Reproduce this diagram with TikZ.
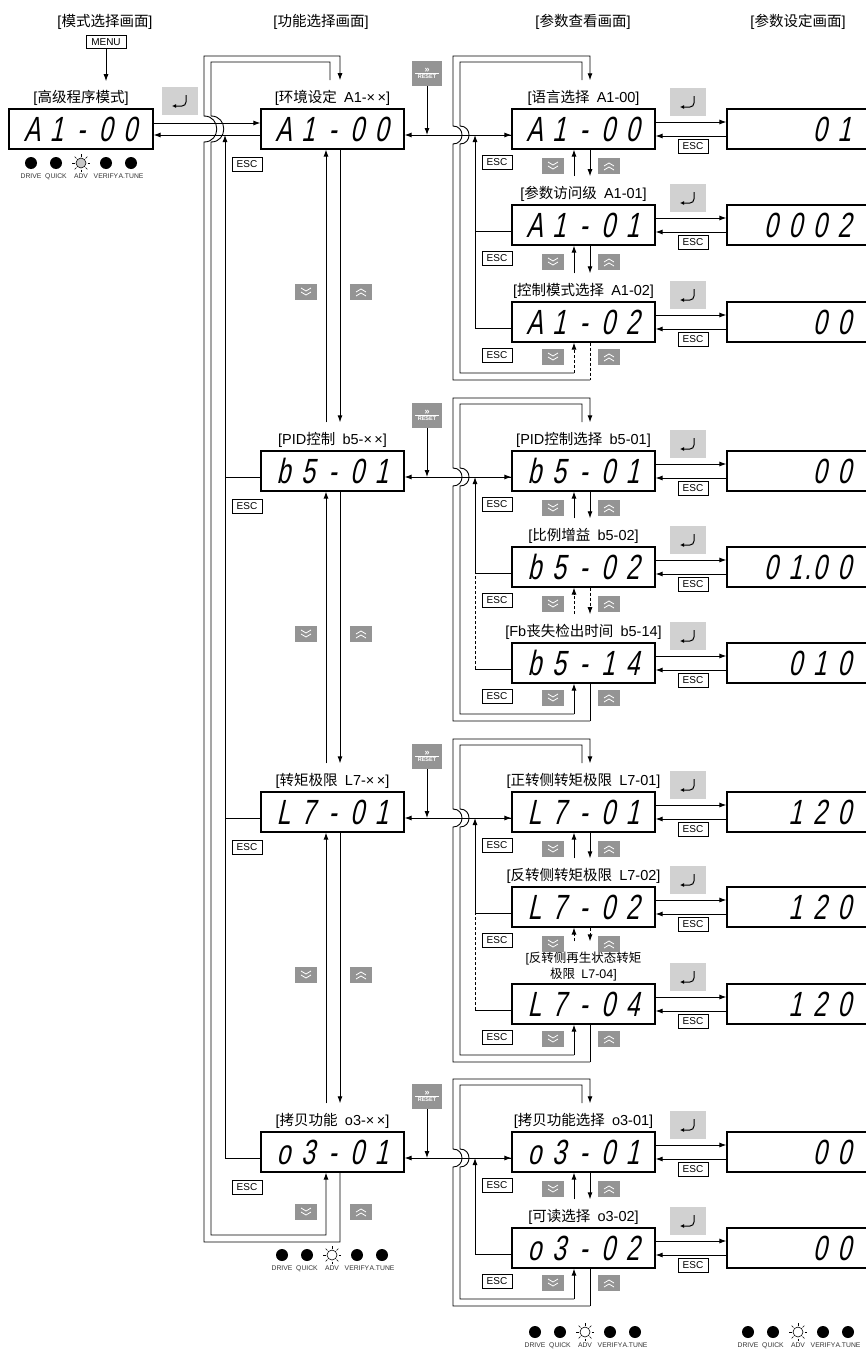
\documentclass[tikz,border=0pt]{standalone}
\usepackage{fontspec}
\setmainfont{Liberation Sans}
\newfontfamily\cjk{Noto Sans CJK SC}
\newfontfamily\segfam{Liberation Sans}[FakeSlant=0.22, FakeStretch=0.7]
\usetikzlibrary{positioning, arrows.meta}

\newcommand\segfont{\segfam\fontsize{35}{35}\selectfont}
\newcommand\labfont{\fontsize{14.5}{16}\selectfont}
% seven-segment readout: one fixed cell per character
\newcommand\segtext[1]{\edef\segtmp{#1}\expandafter\segloop\segtmp\relax}
\newcommand\segloop[1]{\ifx\relax#1\else\ifx.#1\makebox[0pt]{.}\else\makebox[24.5pt]{#1}\fi\expandafter\segloop\fi}

\begin{document}
\begin{tikzpicture}[x=1pt, y=-1pt, line width=0.9pt,
    disp/.style={draw, line width=1.2pt, minimum width=143pt, minimum height=40pt, inner sep=0pt, font=\segfont},
    vbox/.style={draw, line width=1.2pt, minimum width=150pt, minimum height=40pt},
    segval/.style={inner sep=0pt, font=\segfont},
    lab/.style={inner sep=1pt, font=\labfont, align=center},
    esckey/.style={draw, line width=0.8pt, fill=white, minimum width=30pt, minimum height=14pt, inner sep=0pt, font=\fontsize{10}{10}\selectfont},
    enterkey/.style={fill=black!18, minimum width=36pt, minimum height=28pt, path picture={
        \draw[line width=1pt, rounded corners=4pt, -{Latex[length=4pt, width=4pt]}]
          ([shift={(6pt,6pt)}]path picture bounding box.center) |- ([shift={(-8pt,-5pt)}]path picture bounding box.center);}},
    resetkey/.style={fill=black!42, text=white, minimum width=30pt, minimum height=25pt, inner sep=0pt, align=center,
        font=\fontsize{5.5}{6}\selectfont\bfseries, path picture={
        \draw[white, line width=0.6pt] ([xshift=-12pt]path picture bounding box.center) -- ([xshift=12pt]path picture bounding box.center);}},
    dnkey/.style={fill=black!42, minimum width=22pt, minimum height=16pt, inner sep=0pt, path picture={
        \draw[white, line width=0.8pt] ([shift={(-5pt,4pt)}]path picture bounding box.center) -- ++(5pt,-3pt) -- ++(5pt,3pt)
          ([shift={(-5pt,0pt)}]path picture bounding box.center) -- ++(5pt,-3pt) -- ++(5pt,3pt);}},
    upkey/.style={fill=black!42, minimum width=22pt, minimum height=16pt, inner sep=0pt, path picture={
        \draw[white, line width=0.8pt] ([shift={(-5pt,-4pt)}]path picture bounding box.center) -- ++(5pt,3pt) -- ++(5pt,-3pt)
          ([shift={(-5pt,0pt)}]path picture bounding box.center) -- ++(5pt,3pt) -- ++(5pt,-3pt);}},
    led/.style={circle, fill=black, minimum size=12pt, inner sep=0pt},
    ledadv/.style={circle, draw, line width=0.6pt, fill=\ledfill, minimum size=10pt, inner sep=0pt},
    ledlab/.style={inner sep=0pt, text=black!80, font=\fontsize{6.8}{7}\selectfont},
    arrow/.style={-{Latex[length=7pt, width=5pt]}},
    biarrow/.style={{Latex[length=7pt, width=5pt]}-{Latex[length=7pt, width=5pt]}},
    plain/.style={},
    dashd/.style={dash pattern=on 3pt off 2pt}
  ]
  \useasboundingbox (0,0) rectangle (866,1349);
  \clip (0,0) rectangle (866,1349);

  % screen titles
  \node[lab] (h1) at (105,22) {[{\cjk 模式选择画面}]};
  \node[lab] (h2) at (321,22) {[{\cjk 功能选择画面}]};
  \node[lab] (h3) at (583,22) {[{\cjk 参数查看画面}]};
  \node[lab] (h4) at (798,22) {[{\cjk 参数设定画面}]};

  % mode selection screen
  \node[esckey, minimum width=40pt, minimum height=13pt] (menu) at (106,42) {MENU};
  \node[disp, minimum width=144pt] (m) at (81,129) {\segtext{A1-00}};
  \node[lab, above=1pt of m] (mlab) {[{\cjk 高级程序模式}]};
  \node[enterkey] (ment) at (180,101) {};
  \draw[arrow, shorten >=8pt] (menu) -- (menu |- mlab.north);

  % function selection screens
  \coordinate (c2up) at (326,0);
  \coordinate (c2dn) at (340,0);
  \foreach \g/\F/\code/\lab in {A/129/A1-00/{[{\cjk 环境设定}\enspace A1-×\,×]},
      B/471/b5-01/{[PID{\cjk 控制}\enspace b5-×\,×]},
      C/812/L7-01/{[{\cjk 转矩极限}\enspace L7-×\,×]},
      D/1152/o3-01/{[{\cjk 拷贝功能}\enspace o3-×\,×]}} {
    \node[disp] (f\g) at (332.5,\F) {\segtext{\code}};
    \node[lab, above=1pt of f\g] (g\g) {\lab};
    \node[esckey] (fe\g) at (247,\F+35) {ESC};
    \node[resetkey] (r\g) at (427,\F-56) {{\fontsize{9}{7}\selectfont »}\\RESET};
    \coordinate (fl\g) at (225,\F+6);
    \coordinate (rl\g) at (427,\F+6);
    \draw (fl\g) -- (f\g.west |- fl\g);
    \draw[arrow] (r\g) -- (rl\g);
  }
  \foreach \a/\b/\y in {A/B/129, B/C/471, C/D/812} {
    \node[dnkey] (kd\a) at (306,\y+163) {};
    \node[upkey] (ku\a) at (361,\y+163) {};
    \draw[arrow, shorten <=9pt] (g\b.north -| c2up) -- (f\a.south -| c2up);
    \draw[arrow, shorten >=9pt] (f\a.south -| c2dn) -- (g\b.north -| c2dn);
  }
  \node[dnkey] (kdD) at (306,1212) {};
  \node[upkey] (kuD) at (361,1212) {};

  % mode <-> function, ESC back
  \draw[arrow] ([yshift=6pt]m.east) -- ([yshift=6pt]fA.west);
  \draw[arrow] ([yshift=-6pt]fA.west) -- ([yshift=-6pt]m.east);
  \draw[arrow] (flD) -- (flA);

  % wrap-around between first and last function
  \coordinate (st2) at (330,80);
  \draw[arrow, shorten >=9pt] (fD.south -| c2dn) |- (204,1242) -- (204,142)
    .. controls +(17,0) and +(17,0) .. (204,116) -- (204,56) -| (gA.north -| c2dn);
  \draw[arrow] (st2) |- (211,62) -- (211,116)
    .. controls +(17,0) and +(17,0) .. (211,142) -- (211,1235) -| (fD.south -| c2up);

  % parameter screens and setting screens
  \coordinate (c3up) at (574,0);
  \coordinate (c3dn) at (590,0);
  \foreach \n/\y/\lab/\code/\val in {A1/129/{[{\cjk 语言选择}\enspace A1-00]}/A1-00/01,
      A2/225/{[{\cjk 参数访问级}\enspace A1-01]}/A1-01/0002,
      A3/322/{[{\cjk 控制模式选择}\enspace A1-02]}/A1-02/00,
      B1/471/{[PID{\cjk 控制选择}\enspace b5-01]}/b5-01/00,
      B2/567/{[{\cjk 比例增益}\enspace b5-02]}/b5-02/01.00,
      B3/663/{[Fb{\cjk 丧失检出时间}\enspace b5-14]}/b5-14/010,
      C1/812/{[{\cjk 正转侧转矩极限}\enspace L7-01]}/L7-01/120,
      C2/907/{[{\cjk 反转侧转矩极限}\enspace L7-02]}/L7-02/120,
      C3/1004/{\fontsize{12.5}{12.5}\selectfont[{\cjk 反转侧再生状态转矩}\\\fontsize{12.5}{12.5}\selectfont{\cjk 极限}\enspace L7-04]}/L7-04/120,
      D1/1152/{[{\cjk 拷贝功能选择}\enspace o3-01]}/o3-01/00,
      D2/1248/{[{\cjk 可读选择}\enspace o3-02]}/o3-02/00} {
    \node[disp] (p\n) at (583.5,\y) {\segtext{\code}};
    \node[lab, above=1pt of p\n] (l\n) {\lab};
    \node[vbox] (v\n) at (802,\y) {};
    \node[segval, anchor=east] (t\n) at (857,\y) {\segtext{\val}};
    \node[enterkey] (e\n) at (688,\y-27) {};
    \node[esckey] (x\n) at (693,\y+17) {ESC};
    \node[esckey] (q\n) at (497,\y+33) {ESC};
    \coordinate (j\n) at (475,\y+6);
    \draw (j\n) -- (p\n.west |- j\n);
    \draw[arrow] ([yshift=7pt]p\n.east) -- ([yshift=7pt]v\n.west);
    \draw[arrow] ([yshift=-7pt]v\n.west) -- ([yshift=-7pt]p\n.east);
  }

  % moving between parameters
  \foreach \a/\b/\y/\s/\tp in {A1/A2/129/solid/arrow, A2/A3/225/solid/plain,
      B1/B2/471/solid/arrow, B2/B3/567/dashd/plain, C1/C2/812/solid/arrow,
      C2/C3/907/dashd/plain, D1/D2/1152/solid/arrow} {
    \node[dnkey] (kd\a) at (553,\y+37) {};
    \node[upkey] (ku\a) at (609,\y+37) {};
    \draw[arrow, \s, shorten <=9pt] (l\b.north -| c3up) -- (p\a.south -| c3up);
    \draw[arrow, \s, shorten >=9pt] (p\a.south -| c3dn) -- (l\b.north -| c3dn);
    \draw[\tp, \s] (j\b) -- (j\a);
  }

  % entry from function screen, wrap-around loops
  \foreach \g/\F/\first/\last/\Y/\s in {A/129/A1/A3/322/dashd, B/471/B1/B3/663/solid,
      C/812/C1/C3/1004/solid, D/1152/D1/D2/1248/solid} {
    \draw[biarrow] ([yshift=-6pt]f\g.east) -- ([yshift=-6pt]p\first.west);
    \node[dnkey] (kd\last) at (553,\Y+35) {};
    \node[upkey] (ku\last) at (609,\Y+35) {};
    \draw[\s] (p\last.south -| c3dn) -- (590,\Y+58);
    \draw[arrow, shorten >=9pt] (590,\Y+58) -| (453,\F+15)
      .. controls +(12,0) and +(12,0) .. (453,\F-3) -- (453,\F-73) -| (l\first.north -| c3dn);
    \draw (582,\F-49) |- (460,\F-67) -- (460,\F-3)
      .. controls +(12,0) and +(12,0) .. (460,\F+15) |- (574,\Y+51);
    \draw[arrow, \s] (574,\Y+51) -- (p\last.south -| c3up);
  }

  % status LEDs
  \foreach \s/\x/\y/\ledfill in {m/31/163/black!22, f/282/1255/white, p/535/1332/white, s/748/1332/white} {
    \foreach \i/\tg/\st in {1/DRIVE/led, 2/QUICK/led, 3/ADV/ledadv, 4/VERIFY/led, 5/A.TUNE/led} {
      \node[\st] (led\s\i) at (\x+25*\i-25,\y) {};
      \node[ledlab] (tag\s\i) at (\x+25*\i-25,\y+13.5) {\tg};
    }
    \foreach \ang in {0,45,...,315}
      \draw[line width=0.5pt] (led\s3) ++(\ang:6.5pt) -- ++(\ang:2.5pt);
  }
\end{tikzpicture}
\end{document}
